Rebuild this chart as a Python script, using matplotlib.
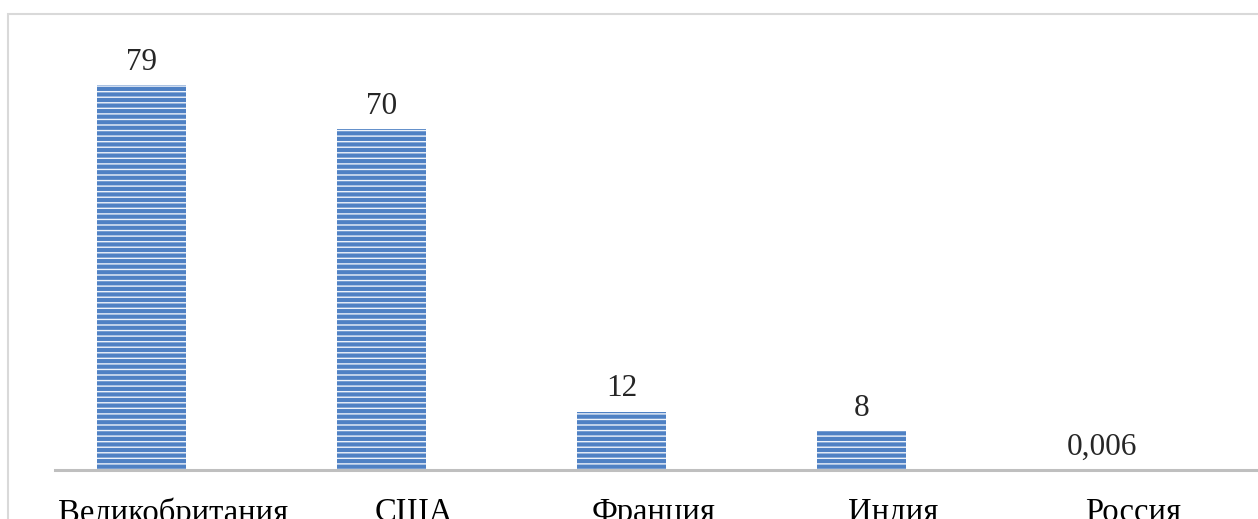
import matplotlib.pyplot as plt
import matplotlib.transforms as mtransforms
from matplotlib.patches import Rectangle

# данные
страны = ['Великобритания', 'США', 'Франция', 'Индия', 'Россия']
значения = [79, 70, 12, 8, 0.006]
подписи = ['79', '70', '12', '8', '0,006']

plt.rcParams['font.family'] = ['Liberation Serif', 'DejaVu Serif']
plt.rcParams['hatch.linewidth'] = 1.0

fig = plt.figure(figsize=(12.58, 5.19), dpi=100)
ax = fig.add_axes([55 / 1258, 49 / 519, 1203 / 1258, 456 / 519])

# рамка вокруг диаграммы
fig.patches.append(Rectangle((8 / 1258, -0.1), 1.2, (519 - 14) / 519 + 0.1,
                             transform=fig.transFigure, fill=False,
                             edgecolor='#d9d9d9', linewidth=1.5))

x = range(len(страны))
barras = ax.bar(x, значения, width=0.37, color='#4f81c4', edgecolor='#eef3fa',
                linewidth=0, hatch='---')

for barra, texto in zip(barras, подписи):
    ax.annotate(texto, xy=(barra.get_x() + barra.get_width() / 2, barra.get_height()),
                xytext=(0, 6), textcoords='offset points', ha='center', va='bottom',
                fontsize=22.5, color='#262626')

ax.set_xlim(-0.36, 4.652)
ax.set_ylim(0, 93.6)
ax.set_xticks(list(x))
ax.set_xticklabels(страны, fontsize=23.5, color='black')
ax.tick_params(axis='x', length=0, pad=19.5)
ax.set_yticks([])

# подписи категорий немного сдвинуты вправо
сдвиг = mtransforms.ScaledTranslation(0.32, 0, fig.dpi_scale_trans)
for lbl in ax.get_xticklabels():
    lbl.set_transform(lbl.get_transform() + сдвиг)

for lado in ['top', 'right', 'left']:
    ax.spines[lado].set_visible(False)
ax.spines['bottom'].set_color('#bfbfbf')
ax.spines['bottom'].set_linewidth(2.2)

fig.savefig('out.png', dpi=100)
